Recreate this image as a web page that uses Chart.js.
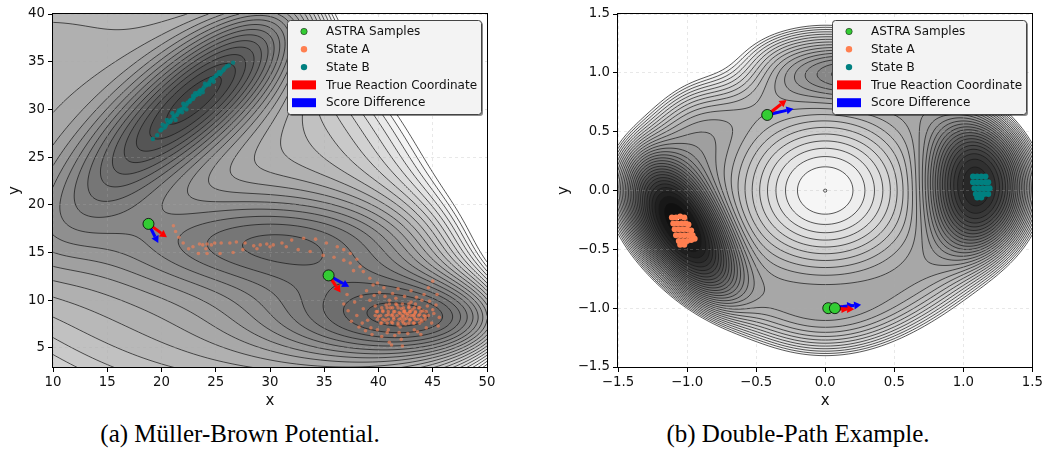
<!DOCTYPE html>
<html>
<head>
<meta charset="utf-8">
<script src="https://cdn.jsdelivr.net/npm/chart.js@4.4.1/dist/chart.umd.min.js"></script>
<style>
  body { margin: 0; background: #fff; width: 1046px; height: 458px; position: relative; overflow: hidden; }
  .panel { position: absolute; top: 0; height: 420px; }
  .cap { position: absolute; top: 420px; font-family: "Liberation Serif", serif; font-size: 25px; color: #000; white-space: nowrap; transform: translateX(-50%); }
</style>
</head>
<body>
<div class="panel" style="left:0;width:500px"><canvas id="mb"></canvas></div>
<div class="panel" style="left:548px;width:498px"><canvas id="dp"></canvas></div>
<div class="cap" style="left:240px">(a) Müller-Brown Potential.</div>
<div class="cap" style="left:798px">(b) Double-Path Example.</div>
<script>
// ---- (a) Müller-Brown: ticks, levels, samples ----
const mbXTicks = [10, 15, 20, 25, 30, 35, 40, 45, 50];
const mbYTicks = [5, 10, 15, 20, 25, 30, 35, 40];
const mbLevels = [-150, -137.5, -125, -112.5, -100, -87.5, -75, -62.5, -50, -37.5, -25, -12.5,
                  0, 12.5, 25, 37.5, 50, 62.5, 75, 87.5, 100, 112.5, 125, 137.5];
// standard MB terms, plot coords are x = 16*(u+2), y = 16*(v+0.5)
const mbA = [-200, -100, -170, 15];
const mba = [-1, -1, -6.5, 0.7];
const mbb = [0, 0, 11, 0.6];
const mbc = [-10, -10, -6.5, 0.7];
const mbX0 = [1, 0, -0.5, -1];
const mbY0 = [0, 0.5, 1.5, 1];

const mbAstra = [[18.8, 18.0], [35.4, 12.6]];
const mbTrueRC = [[20.5, 16.6], [36.5, 10.8]];
const mbScoreDiff = [[19.7, 16.0], [37.3, 11.4]];

const mbStateB = [
  [19.2, 26.9], [19.6, 27.3], [19.9, 27.8], [20.3, 28.1], [20.6, 28.6], [20.9, 28.9], [21.2, 29.3],
  [21.5, 29.6], [21.8, 30.0], [22.1, 30.3], [22.4, 30.7], [22.7, 31.0], [23.0, 31.3], [23.3, 31.7],
  [23.6, 32.0], [23.9, 32.3], [24.2, 32.6], [24.5, 33.0], [24.8, 33.3], [25.1, 33.6], [25.5, 33.9],
  [25.8, 34.3], [26.2, 34.6], [26.6, 34.9], [20.5, 28.9], [21.0, 29.6], [21.6, 29.9], [22.0, 30.6],
  [22.6, 30.8], [23.1, 31.7], [23.5, 31.6], [24.0, 32.7], [24.4, 32.6], [21.3, 28.9], [22.3, 30.0],
  [23.8, 31.8], [24.8, 32.9], [20.1, 28.4], [25.3, 33.9], [21.9, 29.7], [22.9, 31.4], [24.6, 33.2],
  [20.0, 27.9], [20.4, 28.3], [20.8, 28.7], [21.1, 29.2], [21.4, 29.4], [21.7, 29.8], [22.0, 30.1],
  [22.3, 30.5], [22.6, 30.9], [22.9, 31.1], [23.2, 31.5], [23.5, 31.9], [23.8, 32.1], [24.1, 32.5],
  [24.4, 32.8], [24.7, 33.1], [25.0, 33.5], [25.4, 33.7], [25.7, 34.1], [26.0, 34.5]
];
const mbStateATrail = [
  [21.1, 17.8], [21.3, 17.2], [21.6, 16.6], [22.0, 16.0], [22.5, 15.4], [23.5, 15.9], [24.2, 15.9],
  [24.9, 16.0], [25.5, 16.0], [26.3, 16.0], [26.9, 16.1], [27.7, 16.0], [28.5, 15.7], [29.1, 15.8],
  [29.7, 15.9], [30.3, 15.8], [31.1, 16.0], [32.0, 16.3], [33.1, 16.5], [34.2, 16.4], [35.2, 16.0],
  [36.2, 15.6], [36.8, 15.3], [37.4, 14.9], [38.0, 14.3], [38.3, 13.5], [38.6, 13.0], [39.2, 12.3],
  [39.9, 11.8], [23.4, 14.9], [24.2, 14.9], [25.4, 14.9], [26.6, 15.0], [27.5, 15.3], [28.8, 15.4],
  [30.0, 15.6], [31.5, 15.6], [32.6, 15.3], [33.7, 15.1], [34.9, 14.7], [35.9, 14.5], [36.8, 14.2],
  [37.4, 13.9], [37.7, 13.1], [22.9, 15.6], [24.1, 15.4], [23.8, 15.8], [24.6, 15.8]
];
const mbStateABlob = [
  [40.0, 8.3], [40.4, 8.9], [40.6, 7.9], [40.9, 8.5], [41.1, 9.2], [41.2, 7.7], [41.4, 8.2], [41.5, 8.8],
  [41.7, 9.5], [41.8, 7.4], [41.9, 8.0], [42.0, 8.6], [42.1, 9.1], [42.2, 7.8], [42.3, 8.3], [42.4, 8.9],
  [42.5, 7.5], [42.6, 8.1], [42.7, 8.6], [42.8, 9.3], [42.9, 7.9], [43.0, 8.4], [43.1, 9.0], [43.2, 7.6],
  [43.3, 8.2], [43.4, 8.7], [43.6, 8.0], [43.7, 9.2], [43.8, 8.5], [44.0, 7.8], [44.1, 8.9], [44.3, 8.3],
  [40.2, 7.6], [40.7, 9.5], [39.8, 8.8], [41.0, 10.0], [44.5, 9.4], [42.0, 7.2], [43.0, 9.8], [41.6, 10.2],
  [41.3, 8.5], [41.7, 8.4], [42.1, 8.1], [42.5, 8.6], [42.9, 8.8], [43.3, 8.5], [42.3, 8.8], [41.9, 8.7],
  [40.3, 7.6], [40.8, 7.6], [41.3, 7.6], [41.8, 7.6], [42.3, 7.6], [42.8, 7.6], [43.3, 7.6], [43.8, 7.6],
  [39.9, 8.0], [40.4, 8.0], [40.9, 8.0], [41.4, 8.0], [42.4, 8.0], [42.9, 8.0], [43.4, 8.0], [43.9, 8.0], [44.3, 8.0],
  [39.7, 8.4], [40.2, 8.4], [40.7, 8.4], [41.2, 8.4], [42.2, 8.4], [42.7, 8.4], [43.2, 8.4], [43.7, 8.4], [44.2, 8.4], [44.6, 8.4],
  [39.9, 8.8], [40.4, 8.8], [40.9, 8.8], [41.4, 8.8], [42.4, 8.8], [42.9, 8.8], [43.4, 8.8], [43.9, 8.8], [44.4, 8.8],
  [40.3, 9.2], [40.8, 9.2], [41.3, 9.2], [41.8, 9.2], [42.3, 9.2], [42.8, 9.2], [43.3, 9.2], [43.8, 9.2],
  [41.0, 9.6], [41.6, 9.6], [42.2, 9.6], [42.8, 9.6], [43.4, 9.6],
  [37.2, 8.9], [37.5, 7.8], [37.8, 9.8], [38.0, 8.4], [38.2, 7.2], [38.4, 10.4], [38.6, 9.1], [38.8, 6.8],
  [38.9, 11.0], [39.0, 7.9], [39.2, 10.0], [39.4, 6.4], [39.5, 11.6], [39.7, 9.4], [39.9, 6.9], [40.1, 10.8],
  [40.3, 6.2], [40.5, 11.3], [40.8, 6.6], [41.0, 5.6], [41.3, 10.7], [41.5, 6.3], [41.8, 11.2], [42.1, 5.9],
  [42.4, 10.4], [42.7, 6.5], [43.0, 11.0], [43.3, 6.9], [43.5, 10.3], [43.9, 6.4], [44.2, 10.6], [44.4, 7.1],
  [44.7, 9.9], [44.9, 7.6], [45.1, 8.6], [45.3, 9.5], [45.5, 7.3], [45.6, 8.2], [45.4, 10.6], [44.6, 11.3],
  [45.0, 12.0], [41.2, 5.3], [42.2, 5.2], [36.8, 9.6], [37.1, 10.6], [38.5, 7.6], [39.3, 7.1], [40.6, 10.4],
  [44.0, 10.0], [45.0, 9.0], [39.6, 10.5], [43.6, 6.7], [41.9, 6.6], [40.9, 6.9]
];

// ---- (b) Double-path: ticks, wells, samples ----
const dpTicks = [-1.5, -1.0, -0.5, 0.0, 0.5, 1.0, 1.5];
const dpLevelCount = 31;
// central hump, deep left well, right well, shallow top well, top-left ridge
const dpWellX = [0, -1.05, 1.12, 0.25, -0.7];
const dpWellY = [0, -0.35, 0.05, 1.0, 1.0];
const dpWellDepth = [1.0, -0.6, -0.47, -0.17, 0.15];
const dpWellLong = [1.08, 0.65, 0.35, 0.45, 0.3];
const dpWellShort = [1.08, 0.3, 0.55, 0.2, 0.3];
const dpWellTilt = [0, 116, 0, 0, 0];
const dpWellPow = [1, 1.4, 1.4, 1, 1];
const dpWall = [0.21, 1.094, 1.0, 1.0];   // strength, x scale, y scale, corner term

const dpAstra = [[-0.42, 0.642], [0.022, -1.0], [0.07, -1.0]];
const dpTrueRC = [[-0.28, 0.77], [0.17, -1.01], [0.21, -1.01]];
const dpScoreDiff = [[-0.23, 0.695], [0.21, -0.975], [0.26, -0.97]];
const dpStateA = [
  [-1.11, -0.23], [-1.08, -0.23], [-1.05, -0.22], [-1.02, -0.23],
  [-1.10, -0.28], [-1.07, -0.28], [-1.04, -0.28], [-1.01, -0.28], [-0.99, -0.29],
  [-1.09, -0.33], [-1.06, -0.33], [-1.03, -0.33], [-1.00, -0.33], [-0.97, -0.34],
  [-1.08, -0.38], [-1.05, -0.38], [-1.02, -0.38], [-0.99, -0.38], [-0.96, -0.38],
  [-1.06, -0.43], [-1.03, -0.43], [-1.00, -0.43], [-0.97, -0.42], [-0.945, -0.41],
  [-1.05, -0.46], [-1.02, -0.46]
];
const dpStateB = [
  [1.07, 0.12], [1.10, 0.12], [1.13, 0.12], [1.16, 0.12],
  [1.07, 0.07], [1.10, 0.07], [1.13, 0.07], [1.16, 0.07], [1.18, 0.07],
  [1.08, 0.02], [1.11, 0.02], [1.14, 0.02], [1.17, 0.02], [1.19, 0.02],
  [1.09, -0.03], [1.12, -0.03], [1.15, -0.03], [1.18, -0.03],
  [1.10, -0.06], [1.13, -0.06]
];

const legendLabels = ['ASTRA Samples', 'State A', 'State B', 'True Reaction Coordinate', 'Score Difference'];
const GREEN = '#33cc33', CORAL = '#ff7f50', TEAL = '#008080';

function mbField(px, py) {
  const u = px / 16 - 2, v = py / 16 - 0.5;
  let s = 0;
  for (let k = 0; k < 4; k++) {
    const dx = u - mbX0[k], dy = v - mbY0[k];
    s += mbA[k] * Math.exp(mba[k] * dx * dx + mbb[k] * dx * dy + mbc[k] * dy * dy);
  }
  return s;
}

function dpField(x, y) {
  let s = 0;
  for (let k = 0; k < dpWellX.length; k++) {
    const t = dpWellTilt[k] * Math.PI / 180;
    const dx = x - dpWellX[k], dy = y - dpWellY[k];
    const a = dx * Math.cos(t) + dy * Math.sin(t);
    const b = -dx * Math.sin(t) + dy * Math.cos(t);
    const q = (a * a) / (dpWellLong[k] ** 2) + (b * b) / (dpWellShort[k] ** 2);
    s += dpWellDepth[k] * Math.exp(-Math.pow(q, dpWellPow[k]));
  }
  const qx = (x / dpWall[1]) ** 2, qy = (y / dpWall[2]) ** 2;
  return s + dpWall[0] * ((qx + qy) ** 2 + dpWall[3] * x * x * y * y);
}

// marching squares segments: edges 0 top, 1 right, 2 bottom, 3 left
const MS = {1: [[3, 2]], 2: [[2, 1]], 3: [[3, 1]], 4: [[0, 1]], 5: [[0, 1], [3, 2]], 6: [[0, 2]], 7: [[3, 0]],
            8: [[3, 0]], 9: [[0, 2]], 10: [[0, 3], [1, 2]], 11: [[0, 1]], 12: [[3, 1]], 13: [[1, 2]], 14: [[3, 2]]};

function contourPlugin(field, levelsFor, shade) {
  return {
    id: 'contour',
    beforeDraw(chart) {
      const { ctx, chartArea: a, scales: { x, y } } = chart;
      const L = Math.round(a.left), T = Math.round(a.top);
      const W = Math.round(a.right) - L, H = Math.round(a.bottom) - T;
      const vals = new Float32Array(W * H);
      let lo = Infinity;
      for (let j = 0; j < H; j++) {
        const vy = y.getValueForPixel(T + j + 0.5);
        for (let i = 0; i < W; i++) {
          const v = field(x.getValueForPixel(L + i + 0.5), vy);
          vals[j * W + i] = v;
          if (v < lo) lo = v;
        }
      }
      const lv = levelsFor(lo);
      const nb = lv.length - 1;
      const img = ctx.createImageData(W, H);
      for (let p = 0; p < W * H; p++) {
        const v = vals[p];
        let g = 255;
        if (v >= lv[0] && v <= lv[nb]) {
          let b = 0;
          while (b < nb - 1 && v > lv[b + 1]) b++;
          g = shade(b, nb);
        }
        img.data[p * 4] = img.data[p * 4 + 1] = img.data[p * 4 + 2] = g;
        img.data[p * 4 + 3] = 255;
      }
      ctx.putImageData(img, L, T);

      // contour lines on a 2px grid
      const st = 2, nx = Math.ceil(W / st) + 1, ny = Math.ceil(H / st) + 1;
      const gv = new Float32Array(nx * ny);
      for (let j = 0; j < ny; j++) {
        const vy = y.getValueForPixel(T + j * st);
        for (let i = 0; i < nx; i++) gv[j * nx + i] = field(x.getValueForPixel(L + i * st), vy);
      }
      ctx.save();
      ctx.beginPath();
      ctx.rect(a.left, a.top, a.right - a.left, a.bottom - a.top);
      ctx.clip();
      ctx.strokeStyle = 'rgba(25,25,25,0.9)';
      ctx.lineWidth = 0.8;
      for (const lev of lv) {
        ctx.beginPath();
        for (let j = 0; j < ny - 1; j++) {
          for (let i = 0; i < nx - 1; i++) {
            const va = gv[j * nx + i], vb = gv[j * nx + i + 1];
            const vc = gv[(j + 1) * nx + i + 1], vd = gv[(j + 1) * nx + i];
            const idx = (va > lev ? 8 : 0) | (vb > lev ? 4 : 0) | (vc > lev ? 2 : 0) | (vd > lev ? 1 : 0);
            const segs = MS[idx];
            if (!segs) continue;
            const x0 = L + i * st, y0 = T + j * st;
            const pt = e => {
              if (e === 0) return [x0 + st * (lev - va) / (vb - va), y0];
              if (e === 1) return [x0 + st, y0 + st * (lev - vb) / (vc - vb)];
              if (e === 2) return [x0 + st * (lev - vd) / (vc - vd), y0 + st];
              return [x0, y0 + st * (lev - va) / (vd - va)];
            };
            for (const [e1, e2] of segs) {
              const p1 = pt(e1), p2 = pt(e2);
              ctx.moveTo(p1[0], p1[1]);
              ctx.lineTo(p2[0], p2[1]);
            }
          }
        }
        ctx.stroke();
      }
      ctx.restore();
    }
  };
}

function arrowPlugin(starts, reds, blues) {
  const draw = (ctx, x0, y0, x1, y1, color) => {
    const ang = Math.atan2(y1 - y0, x1 - x0), head = 7, hw = 4;
    const bx = x1 - head * Math.cos(ang), by = y1 - head * Math.sin(ang);
    ctx.strokeStyle = color;
    ctx.fillStyle = color;
    ctx.lineWidth = 3;
    ctx.beginPath();
    ctx.moveTo(x0, y0);
    ctx.lineTo(bx, by);
    ctx.stroke();
    ctx.beginPath();
    ctx.moveTo(x1, y1);
    ctx.lineTo(bx + hw * Math.sin(ang), by - hw * Math.cos(ang));
    ctx.lineTo(bx - hw * Math.sin(ang), by + hw * Math.cos(ang));
    ctx.closePath();
    ctx.fill();
  };
  return {
    id: 'arrows',
    beforeDatasetsDraw(chart) {
      const { ctx, scales: { x, y } } = chart;
      ctx.save();
      starts.forEach((s, i) => {
        const sx = x.getPixelForValue(s[0]), sy = y.getPixelForValue(s[1]);
        draw(ctx, sx, sy, x.getPixelForValue(blues[i][0]), y.getPixelForValue(blues[i][1]), '#0000ff');
        draw(ctx, sx, sy, x.getPixelForValue(reds[i][0]), y.getPixelForValue(reds[i][1]), '#ff0000');
      });
      ctx.restore();
    }
  };
}

const frameLegend = {
  id: 'frameLegend',
  afterDraw(chart) {
    const { ctx, chartArea: a } = chart;
    ctx.save();
    ctx.strokeStyle = '#000';
    ctx.lineWidth = 1;
    ctx.strokeRect(Math.round(a.left) - 0.5, Math.round(a.top) - 0.5, Math.round(a.right - a.left) + 1, Math.round(a.bottom - a.top) + 1);

    const w = 194, h = 94, bx = Math.round(a.right) - 6 - w, by = Math.round(a.top) + 6;
    ctx.fillStyle = 'rgba(0,0,0,0.45)';
    ctx.beginPath(); ctx.roundRect(bx + 2, by + 2, w, h, 3); ctx.fill();
    ctx.fillStyle = '#f3f3f3';
    ctx.strokeStyle = '#444';
    ctx.lineWidth = 1;
    ctx.beginPath(); ctx.roundRect(bx + 0.5, by + 0.5, w, h, 3); ctx.fill(); ctx.stroke();

    ctx.font = '12px "DejaVu Sans"';
    ctx.textBaseline = 'middle';
    const marks = [GREEN, CORAL, TEAL, '#ff0000', '#0000ff'];
    legendLabels.forEach((t, i) => {
      const ry = by + 11 + i * 17.8;
      if (i < 3) {
        ctx.fillStyle = marks[i];
        ctx.beginPath(); ctx.arc(bx + 17, ry + 0.5, 3.2, 0, Math.PI * 2); ctx.fill();
        if (i === 0) { ctx.strokeStyle = '#222'; ctx.lineWidth = 0.6; ctx.stroke(); }
      } else {
        ctx.fillStyle = marks[i];
        ctx.fillRect(bx + 5, ry - 4, 24, 9);
      }
      ctx.fillStyle = '#111';
      ctx.fillText(t, bx + 39, ry + 1);
    });
    ctx.restore();
  }
};

function makeChart(id, cfg) {
  const pts = arr => arr.map(([x, y]) => ({ x, y }));
  const tickFont = { family: '"DejaVu Sans"', size: 13.3 };
  const titleFont = { family: '"DejaVu Sans"', size: 15 };
  const axis = (ticks, min, max, fmt, extra) => Object.assign({
    type: 'linear', min, max,
    afterBuildTicks: s => { s.ticks = ticks.map(v => ({ value: v })); },
    grid: { color: 'rgba(170,170,170,0.35)', lineWidth: 0.8, tickColor: '#000', tickLength: 5, tickWidth: 1 },
    border: { display: false, dash: [3, 3] },
    ticks: { font: tickFont, color: '#111', padding: 3, maxRotation: 0, autoSkip: false, callback: fmt }
  }, extra);
  return new Chart(document.getElementById(id), {
    type: 'scatter',
    data: {
      datasets: [
        { label: legendLabels[0], data: pts(cfg.astra), backgroundColor: GREEN, borderColor: '#000', borderWidth: 0.8, pointRadius: 5.5 },
        { label: legendLabels[1], data: pts(cfg.stateA), backgroundColor: cfg.aColor, borderWidth: 0, pointRadius: cfg.aRadius },
        { label: legendLabels[2], data: pts(cfg.stateB), backgroundColor: cfg.bColor, borderWidth: 0, pointRadius: cfg.bRadius }
      ]
    },
    options: {
      responsive: true, maintainAspectRatio: false, animation: false, devicePixelRatio: 1,
      layout: { padding: { top: 14, right: cfg.padRight, left: 0, bottom: 0 } },
      plugins: { legend: { display: false }, tooltip: { enabled: false } },
      scales: {
        x: axis(cfg.xTicks, cfg.xMin, cfg.xMax, cfg.fmt, {
          afterFit: s => { s.height = 53; },
          title: { display: true, text: 'x', color: '#111', font: titleFont, padding: { top: 0, bottom: 10 } }
        }),
        y: axis(cfg.yTicks, cfg.yMin, cfg.yMax, cfg.fmt, {
          afterFit: s => { s.width = cfg.yWidth; },
          title: { display: true, text: 'y', color: '#111', font: titleFont, padding: { top: cfg.yTitlePad, bottom: 0 } }
        })
      }
    },
    plugins: [contourPlugin(cfg.field, cfg.levelsFor, cfg.shade), arrowPlugin(cfg.astra, cfg.trueRC, cfg.scoreDiff), frameLegend]
  });
}

makeChart('mb', {
  astra: mbAstra, trueRC: mbTrueRC, scoreDiff: mbScoreDiff,
  stateA: mbStateATrail.concat(mbStateABlob), stateB: mbStateB,
  aColor: 'rgba(255,127,80,0.6)', aRadius: 1.8, bColor: 'rgba(0,128,128,0.85)', bRadius: 2.2,
  xTicks: mbXTicks, yTicks: mbYTicks, xMin: 10, xMax: 50, yMin: 3, yMax: 40,
  fmt: v => String(v), padRight: 13, yWidth: 53, yTitlePad: 6,
  field: mbField, levelsFor: () => mbLevels,
  // grey map seen through 0.75 alpha
  shade: (b, nb) => Math.round(64 + 191 * (b + 0.5) / nb)
});

const dpTop = dpField(dpWellX[0], dpWellY[0]);
makeChart('dp', {
  astra: dpAstra, trueRC: dpTrueRC, scoreDiff: dpScoreDiff,
  stateA: dpStateA, stateB: dpStateB,
  aColor: CORAL, aRadius: 3, bColor: TEAL, bRadius: 3,
  xTicks: dpTicks, yTicks: dpTicks, xMin: -1.5, xMax: 1.5, yMin: -1.5, yMax: 1.5,
  fmt: v => v.toFixed(1).replace('-', '\u2212'), padRight: 13, yWidth: 70, yTitlePad: 7,
  field: dpField,
  levelsFor: lo => {
    const top = dpTop - 0.0002 * (dpTop - lo), out = [];
    for (let i = 0; i < dpLevelCount; i++) out.push(lo + 1e-6 + (top - lo) * i / (dpLevelCount - 1));
    return out;
  },
  shade: (b, nb) => Math.round(12 + 238 * (b + 0.5) / nb)
});
</script>
</body>
</html>
